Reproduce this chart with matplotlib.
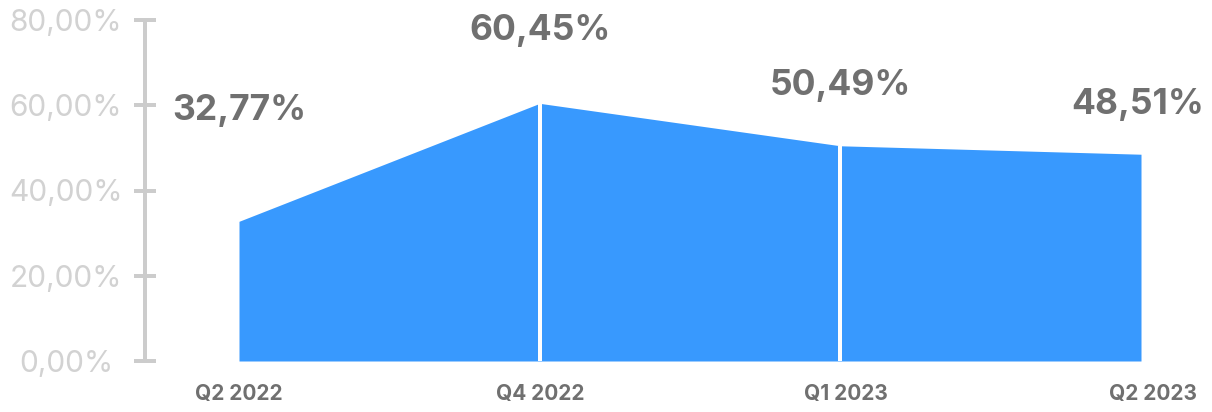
import matplotlib
matplotlib.use("Agg")
import matplotlib.pyplot as plt
from matplotlib.ticker import FuncFormatter
from matplotlib.transforms import ScaledTranslation

plt.rcParams['font.family'] = ['Inter', 'DejaVu Sans']

quarters = ["Q2 2022", "Q4 2022", "Q1 2023", "Q2 2023"]
share = [32.77, 60.45, 50.49, 48.51]
value_labels = ["32,77%", "60,45%", "50,49%", "48,51%"]
y_ticks = [0, 20, 40, 60, 80]

AREA = "#3899fe"
AXIS = "#cccccc"
TEXT = "#707070"
DPI = 100
px = 72 / DPI  # points per pixel

fig = plt.figure(figsize=(12.12, 4.12), dpi=DPI)
ax = fig.add_axes([145 / 1212, 51 / 412, (1205 - 145) / 1212, 341 / 412])

x = list(range(len(quarters)))
ax.fill_between(x, 0, share, color=AREA, linewidth=0)
# thin white separators at the interior quarters
ax.vlines(x[1:-1], 0, share[1:-1], color="white", linewidth=4 * px)

step = 300.67
ax.set_xlim(-(239 - 145) / step, 3 + (1205 - 1141) / step)
ax.set_ylim(0, 80)

for s in ["top", "right", "bottom"]:
    ax.spines[s].set_visible(False)
ax.spines["left"].set_color(AXIS)
ax.spines["left"].set_linewidth(4 * px)
ax.spines["left"].set_bounds(0, 80)

ax.set_yticks(y_ticks)
ax.yaxis.set_major_formatter(FuncFormatter(lambda v, _: f"{v:.2f}%".replace(".", ",")))
ax.tick_params(axis="y", direction="inout", length=23 * px, width=4 * px,
               color=AXIS, labelcolor="#d2d2d2", labelsize=21.5, pad=67.5 * px)
for lbl in ax.get_yticklabels():
    lbl.set_horizontalalignment("center")

ax.set_xticks(x)
ax.set_xticklabels(quarters, fontweight="bold")
ax.tick_params(axis="x", length=0, labelcolor=TEXT, labelsize=15, pad=23 * px)
xshift = [0, 1, 6, 12]
for lbl, d in zip(ax.get_xticklabels(), xshift):
    lbl.set_transform(lbl.get_transform() + ScaledTranslation(d / DPI, 0, fig.dpi_scale_trans))

# value labels above the area (baseline heights as axes fractions)
label_y = [0.707, 0.941, 0.780, 0.724]
label_x_shift = [0, 0, 0, -3 * px]
for xi, txt, ly, dx in zip(x, value_labels, label_y, label_x_shift):
    ax.annotate(txt, xy=(xi, ly), xycoords=("data", "axes fraction"),
                xytext=(dx, 0), textcoords="offset points",
                ha="center", va="baseline", fontsize=25.5, fontweight="bold",
                color=TEXT, annotation_clip=False)

fig.savefig("out.png", dpi=DPI)
